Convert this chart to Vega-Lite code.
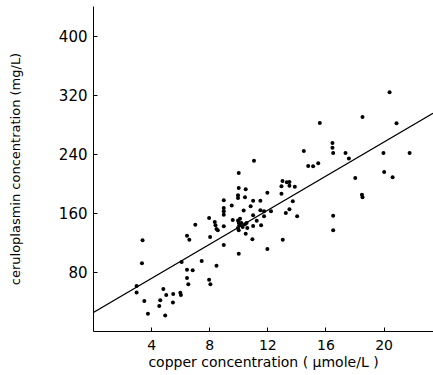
{
  "$schema": "https://vega.github.io/schema/vega-lite/v6.json",
  "width": 340,
  "height": 325,
  "autosize": {"type": "none"},
  "padding": {"left": 93, "top": 6, "right": 0, "bottom": 44},
  "background": "white",
  "config": {
    "view": {"stroke": null},
    "font": "DejaVu Sans",
    "axis": {
      "domainColor": "black",
      "tickColor": "black",
      "labelColor": "black",
      "titleColor": "black",
      "grid": false,
      "labelFont": "DejaVu Sans",
      "titleFont": "DejaVu Sans",
      "labelFontSize": 15,
      "titleFontSize": 13,
      "titleFontWeight": "normal"
    }
  },
  "datasets": {
    "pts": [
      {"copper": 3.0, "cp": 61.0}, {"copper": 3.0, "cp": 52.4}, {"copper": 3.41, "cp": 123.0}, {"copper": 3.37, "cp": 91.8},
      {"copper": 3.53, "cp": 40.7}, {"copper": 3.78, "cp": 23.5}, {"copper": 4.56, "cp": 33.9}, {"copper": 4.63, "cp": 41.6},
      {"copper": 4.84, "cp": 57.0}, {"copper": 5.04, "cp": 48.8}, {"copper": 4.97, "cp": 21.2}, {"copper": 5.52, "cp": 50.2},
      {"copper": 5.5, "cp": 38.8}, {"copper": 6.01, "cp": 52.0}, {"copper": 6.05, "cp": 48.8}, {"copper": 6.1, "cp": 93.7},
      {"copper": 6.47, "cp": 129.3}, {"copper": 6.63, "cp": 123.9}, {"copper": 6.47, "cp": 83.2}, {"copper": 6.86, "cp": 82.3},
      {"copper": 6.47, "cp": 71.9}, {"copper": 6.56, "cp": 63.3}, {"copper": 7.04, "cp": 144.3}, {"copper": 7.48, "cp": 94.9},
      {"copper": 7.99, "cp": 153.4}, {"copper": 8.06, "cp": 127.6}, {"copper": 7.99, "cp": 69.7}, {"copper": 8.08, "cp": 63.3},
      {"copper": 8.5, "cp": 88.7}, {"copper": 8.38, "cp": 148.0}, {"copper": 8.43, "cp": 143.4}, {"copper": 8.5, "cp": 138.4},
      {"copper": 8.59, "cp": 136.6}, {"copper": 9.0, "cp": 177.4}, {"copper": 9.0, "cp": 167.0}, {"copper": 9.0, "cp": 162.5},
      {"copper": 9.0, "cp": 157.9}, {"copper": 9.0, "cp": 142.1}, {"copper": 9.0, "cp": 116.8}, {"copper": 9.55, "cp": 170.2},
      {"copper": 9.62, "cp": 150.7}, {"copper": 10.03, "cp": 214.4}, {"copper": 10.03, "cp": 194.0}, {"copper": 9.98, "cp": 184.1},
      {"copper": 9.98, "cp": 180.5}, {"copper": 10.03, "cp": 104.9}, {"copper": 10.51, "cp": 192.2}, {"copper": 10.46, "cp": 181.4},
      {"copper": 10.37, "cp": 163.4}, {"copper": 10.51, "cp": 132.1}, {"copper": 10.85, "cp": 169.3}, {"copper": 11.08, "cp": 231.1},
      {"copper": 11.02, "cp": 176.9}, {"copper": 11.02, "cp": 157.0}, {"copper": 11.02, "cp": 142.5}, {"copper": 10.97, "cp": 124.4},
      {"copper": 11.27, "cp": 149.7}, {"copper": 11.52, "cp": 176.9}, {"copper": 11.52, "cp": 163.8}, {"copper": 11.57, "cp": 143.4},
      {"copper": 11.77, "cp": 162.5}, {"copper": 11.77, "cp": 155.6}, {"copper": 12.0, "cp": 187.7}, {"copper": 12.0, "cp": 111.1},
      {"copper": 12.25, "cp": 162.5}, {"copper": 12.97, "cp": 186.3}, {"copper": 12.97, "cp": 196.3}, {"copper": 13.04, "cp": 203.5},
      {"copper": 13.06, "cp": 123.9}, {"copper": 13.27, "cp": 160.2}, {"copper": 13.34, "cp": 201.7}, {"copper": 13.52, "cp": 202.2},
      {"copper": 13.52, "cp": 197.2}, {"copper": 13.52, "cp": 165.2}, {"copper": 13.75, "cp": 176.0}, {"copper": 13.89, "cp": 195.8},
      {"copper": 14.05, "cp": 155.6}, {"copper": 14.51, "cp": 244.3}, {"copper": 14.81, "cp": 223.9}, {"copper": 15.15, "cp": 223.5},
      {"copper": 15.5, "cp": 227.5}, {"copper": 15.61, "cp": 282.3}, {"copper": 16.48, "cp": 255.2}, {"copper": 16.48, "cp": 248.8},
      {"copper": 16.53, "cp": 241.6}, {"copper": 16.53, "cp": 156.5}, {"copper": 16.53, "cp": 136.6}, {"copper": 17.38, "cp": 241.6},
      {"copper": 17.61, "cp": 233.9}, {"copper": 18.05, "cp": 207.6}, {"copper": 18.51, "cp": 185.0}, {"copper": 18.55, "cp": 181.4},
      {"copper": 18.55, "cp": 290.4}, {"copper": 19.99, "cp": 241.6}, {"copper": 20.04, "cp": 215.8}, {"copper": 20.41, "cp": 324.0},
      {"copper": 20.62, "cp": 208.6}, {"copper": 20.89, "cp": 281.9}, {"copper": 21.79, "cp": 241.6},
      {"copper": 9.98, "cp": 150.1}, {"copper": 10.03, "cp": 146.9}, {"copper": 10.07, "cp": 143.4}, {"copper": 9.98, "cp": 139.8},
      {"copper": 10.03, "cp": 136.6}, {"copper": 10.21, "cp": 146.5}, {"copper": 10.3, "cp": 141.1}, {"copper": 10.46, "cp": 144.7},
      {"copper": 10.57, "cp": 146.5}, {"copper": 10.62, "cp": 139.8}, {"copper": 10.12, "cp": 152.4}
    ],
    "fit": [
      {"copper": 0, "cp": 24.8},
      {"copper": 23.4, "cp": 295.5}
    ]
  },
  "layer": [
    {
      "data": {"name": "fit"},
      "mark": {"type": "line", "color": "black", "strokeWidth": 1.2, "clip": true},
      "encoding": {
        "x": {"field": "copper", "type": "quantitative", "scale": {"domain": [0, 23.4], "nice": false, "zero": false},
          "axis": {"values": [4, 8, 12, 16, 20], "tickSize": -4, "labelFontSize": 14, "labelPadding": 11, "title": "copper concentration ( μmole/L )", "titleFontSize": 14, "titlePadding": 3}},
        "y": {"field": "cp", "type": "quantitative", "scale": {"domain": [0, 441], "nice": false},
          "axis": {"values": [80, 160, 240, 320, 400], "tickSize": -4, "labelPadding": 10, "title": "ceruloplasmin concentration (mg/L)", "titlePadding": 36}}
      }
    },
    {
      "data": {"name": "pts"},
      "mark": {"type": "circle", "color": "black", "opacity": 1, "size": 16},
      "encoding": {
        "x": {"field": "copper", "type": "quantitative"},
        "y": {"field": "cp", "type": "quantitative"}
      }
    }
  ]
}
